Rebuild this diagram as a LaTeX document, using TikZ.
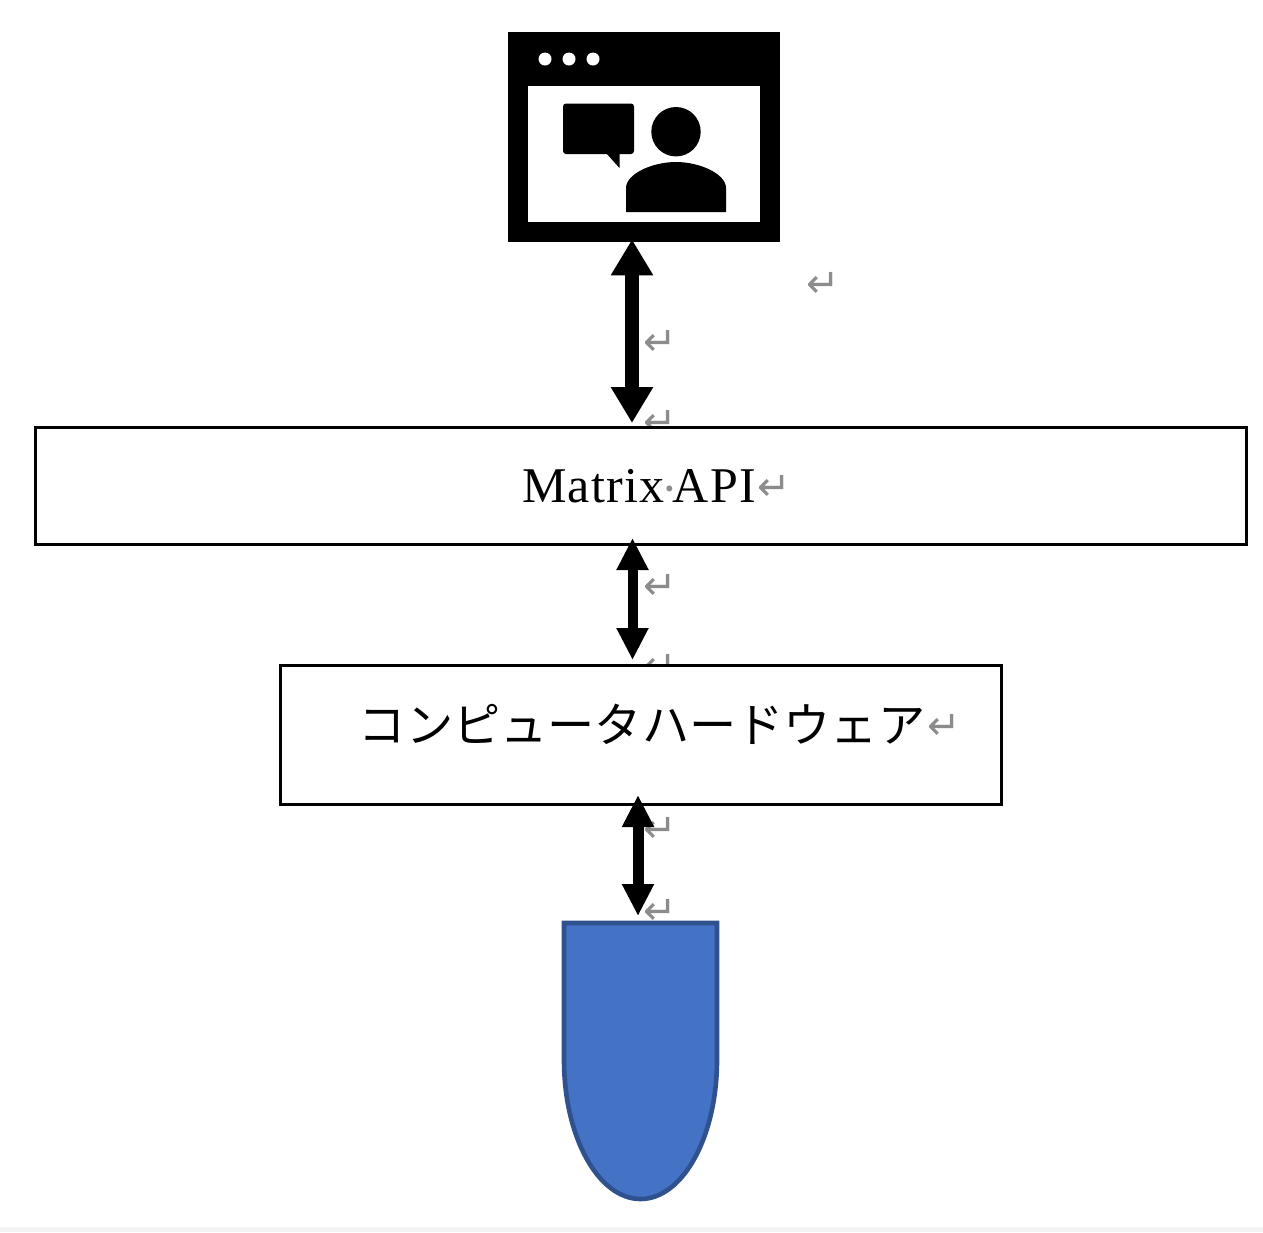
\documentclass[tikz,border=0pt]{standalone}
\usepackage{fontspec}
\setmainfont{Liberation Serif}[LetterSpace=2.4]
\newfontfamily\jpfont{Noto Sans CJK JP}[Scale=1.0]
\newfontfamily\markfont{DejaVu Sans}
\usetikzlibrary{arrows.meta}
\definecolor{markgray}{HTML}{8C8C8C}
\definecolor{shapeblue}{HTML}{4472C4}
\definecolor{shapeedge}{HTML}{2F528F}
\definecolor{stripgray}{HTML}{F3F3F3}

\begin{document}
\begin{tikzpicture}[
	x=0.5pt, y=-0.5pt,
	box/.style={draw=black, fill=white, line width=1.5pt, inner sep=0pt},
	retmark/.style={color=markgray, inner sep=0pt, font=\markfont\fontsize{20}{20}\selectfont},
	bigarrow/.style={line width=7pt, {Triangle[width=20pt, length=18pt]}-{Triangle[width=20pt, length=18pt]}},
	midarrow/.style={line width=5pt, {Triangle[width=15pt, length=16pt]}-{Triangle[width=15pt, length=16pt]}},
	lowarrow/.style={line width=5.5pt, {Triangle[width=15pt, length=16pt]}-{Triangle[width=15pt, length=16pt]}}
	]
	\useasboundingbox (0,0) rectangle (1263,1232);
	\fill[color=stripgray]
		(0,1227) rectangle (1263,1232);

	\foreach \i/\x/\y in {a/823/285, b/660/343, c/660/423, e/660/587, f/660/667, h/660/830, i/660/912}
		\node[retmark] (ret\i) at (\x,\y) {↵};

	% screen icon
	\node[fill=black, inner sep=0pt, minimum width=136pt, minimum height=105pt] (window) at (644,137) {};
	\fill[color=white]
		(528,86) rectangle (760,222);
	\foreach \x in {545,569,593}
		\fill[color=white] (\x,59) circle (6.5);
	\fill[color=black, rounded corners=1.5pt]
		(563,103.5) rectangle (634,154);
	\fill[color=black]
		(606,153) -- (619.5,168) -- (619.5,153) -- cycle;
	\fill[color=black]
		(676,131.7) circle (24.7);
	\fill[color=black]
		(626,212) -- (626,188) .. controls (626,174) and (652,162) .. (676,162)
		.. controls (700,162) and (726,174) .. (726,188) -- (726,212) -- cycle;

	% boxes
	\node[box, minimum width=605.5pt, minimum height=58.5pt] (api) at (641,486) {};
	\node[inner sep=0pt, font=\fontsize{25}{25}\selectfont] (apilabel) at (639,487.5) {Matrix\kern-0.06em\textcolor{markgray}{\raisebox{-0.15ex}{·}}\kern-0.1em API};
	\node[box, minimum width=360.5pt, minimum height=69.5pt] (hw) at (641,735) {};
	\node[inner sep=0pt, font=\jpfont\fontsize{23.6}{24}\selectfont] (hwlabel) at (642,724) {コンピュータハードウェア};
	\node[retmark] (retd) at (774,488) {↵};
	\node[retmark] (retg) at (944,727) {↵};

	% blue shape
	\draw[color=shapeedge, fill=shapeblue, line width=2.3pt]
		(564,923) -- (640,923) coordinate (cap) -- (717,923) -- (717,1060)
		arc[start angle=0, end angle=180, x radius=76.5, y radius=139] -- cycle;

	% connectors
	\coordinate (xa) at (632,0);
	\coordinate (xb) at (632.5,0);
	\coordinate (xc) at (638,0);
	\draw[bigarrow, shorten <=-1.5pt, shorten >=1.5pt]
		(window.south -| xa) -- (api.north -| xa);
	\draw[midarrow, shorten <=-4pt, shorten >=2pt]
		(api.south -| xb) -- (hw.north -| xb);
	\draw[lowarrow, shorten <=-5.5pt, shorten >=3.5pt]
		(hw.south -| xc) -- (cap -| xc);
\end{tikzpicture}
\end{document}
